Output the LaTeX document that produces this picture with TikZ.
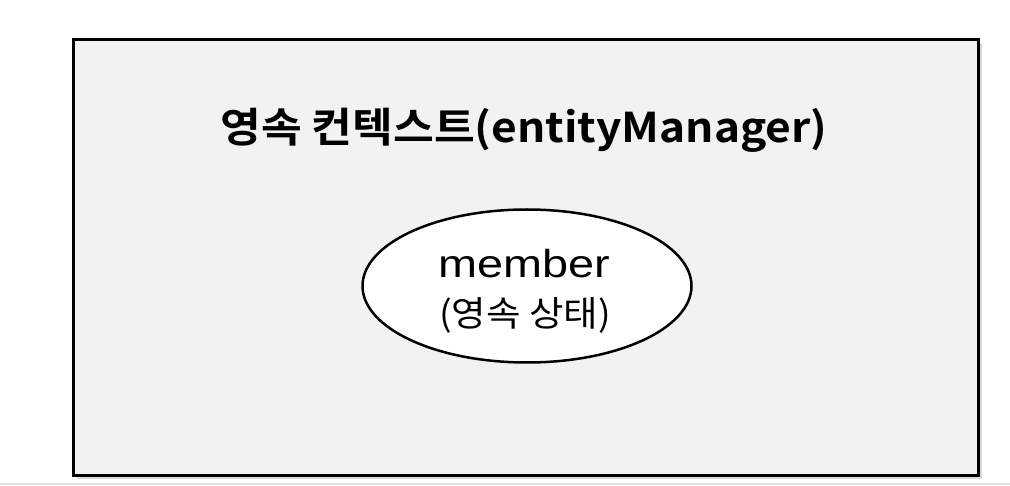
\documentclass[tikz,border=0pt]{standalone}
\usepackage{fontspec}
\usetikzlibrary{shapes.geometric}
\setmainfont{Liberation Sans}
\newfontfamily\krbold{Noto Sans CJK KR Bold}
\newfontfamily\kr{Noto Sans CJK KR}
\begin{document}
\begin{tikzpicture}[x=1pt,y=-1pt,
  ctxbox/.style={draw=black,line width=3pt,fill=black!5},
  entity/.style={draw=black,line width=2.5pt,fill=white,ellipse,inner sep=0pt,minimum width=329pt,minimum height=153pt},
  title/.style={font=\krbold\fontsize{41}{48}\selectfont,anchor=base,inner sep=0pt},
  label/.style={anchor=base,inner sep=0pt}]
\useasboundingbox (0,0) rectangle (1010,486);
\fill[black!12] (0,483) rectangle (1010,485);
\fill[black!30,opacity=0.5] (77,44) rectangle (982,479);
\draw[ctxbox] (73,40) rectangle (978,475);
\node[title] (t) at (524,143) {\scalebox{1.08}[1]{영속 컨텍스트(entityManager)}};
\node[entity] (e) at (527,286) {};
\node[label,font=\fontsize{39}{46}\selectfont] (m) at (524,278) {\scalebox{1.2}[1]{member}};
\node[label,font=\kr\fontsize{35}{40}\selectfont] (s) at (525,327) {\scalebox{1.07}[1]{(영속 상태)}};
\end{tikzpicture}
\end{document}
